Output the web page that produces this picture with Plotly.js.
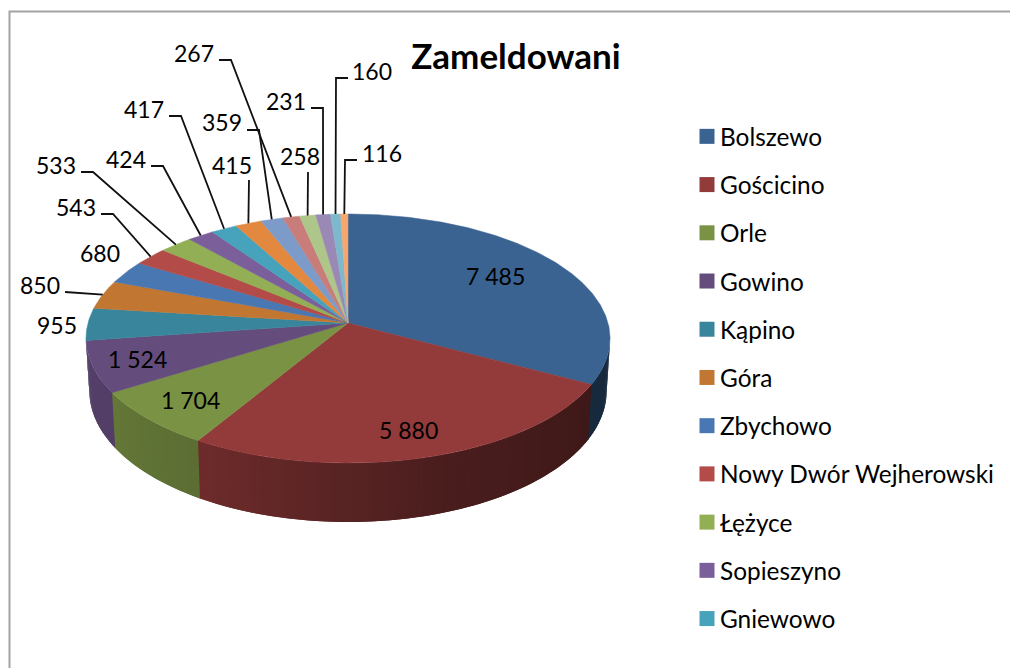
<!DOCTYPE html>
<html>
<head>
<meta charset="utf-8">
<script src="https://cdn.plot.ly/plotly-3.0.1.min.js"></script>
<style>html,body{margin:0;padding:0;background:#fff}#chart{width:1010px;height:668px}</style>
</head>
<body>
<div id="chart"></div>
<script>
// ---- data ----
const sliceValues = [7485, 5880, 1704, 1524, 955, 850, 680, 543, 533, 424, 417, 415, 359, 267, 258, 231, 160, 116];
const legendNames = ['Bolszewo', 'Gościcino', 'Orle', 'Gowino', 'Kąpino', 'Góra', 'Zbychowo', 'Nowy Dwór Wejherowski', 'Łężyce', 'Sopieszyno', 'Gniewowo'];
const sliceColors = ['#3A6391', '#933A3A', '#7A9244', '#644C7D', '#39869C', '#C17732', '#4877B2', '#B34B48', '#93AF55', '#7B5F9A', '#47A2BC', '#E2893F', '#7D9BC8', '#C87D7B', '#AEC68A', '#9A88B5', '#7DB8CC', '#F5A76E'];
// label centres in pixels, one per slice
const labelX = [495, 408, 190, 137, 57, 40, 100, 76, 56, 126, 144, 232, 222, 194, 300, 286, 372, 382];
const labelY = [276, 430, 400, 359, 325, 285, 253, 207, 165, 159, 109, 165, 122, 53, 156, 101, 71, 153];
// leader elbows in pixels (the last point is computed on the rim)
const leaderX = {5: [65], 7: [101, 113], 8: [81, 93], 9: [151, 163], 10: [169, 181], 11: [249], 12: [247, 259], 13: [219, 231], 14: [308], 15: [311, 323], 16: [348, 336], 17: [357, 345]};
const leaderY = {5: [292], 7: [214, 214], 8: [172, 172], 9: [166, 166], 10: [116, 116], 11: [180], 12: [130, 130], 13: [60, 60], 14: [172], 15: [108, 108], 16: [78, 78], 17: [160, 160]};

// ---- perspective disc ----
const cx = 348, cy = 323, R = 260, A = 122.6, K = 0.1245, DEPTH = 51.6, SHRINK = 0.987;
const total = sliceValues.reduce((a, b) => a + b, 0);
function rim(theta) {
  const u = Math.sin(theta), v = -Math.cos(theta), w = 1 - K * v;
  return [R * u / w, A * v / w, w];
}
function upperPt(theta) { const p = rim(theta); return [cx + p[0], cy + p[1]]; }
function lowerPt(theta) { const p = rim(theta); return [cx + p[0] * SHRINK, cy + p[1] + DEPTH / p[2]]; }
const deg = Math.PI / 180;
// side shading: [angle, brightness]
const shadeStops = [[90, .42], [118, .42], [160, .50], [211, .75], [238, .82], [270, .85]];
function shade(a) {
  for (let i = 1; i < shadeStops.length; i++) {
    if (a <= shadeStops[i][0]) {
      const s = shadeStops[i - 1], e = shadeStops[i];
      return s[1] + (e[1] - s[1]) * (a - s[0]) / (e[0] - s[0]);
    }
  }
  return .85;
}
function scaled(hex, f) {
  const n = parseInt(hex.slice(1), 16);
  return 'rgb(' + [(n >> 16) & 255, (n >> 8) & 255, n & 255].map(c => Math.round(c * f)).join(',') + ')';
}
const fmt = v => String(v).replace(/\B(?=(\d{3})+$)/g, '\u00a0');

const traces = [], annotations = [];
const angles = [0];
sliceValues.forEach((v, i) => angles.push(angles[i] + v / total * 360));
const sideFrom = 97.15, sideTo = 262.85, strip = 1, overlap = 1;

// side wall
sliceValues.forEach((v, i) => {
  const a0 = Math.max(angles[i], sideFrom), a1 = Math.min(angles[i + 1], sideTo);
  for (let a = a0; a < a1; a += strip) {
    const b = Math.min(a + strip + overlap, sideTo);
    const xs = [], ys = [];
    [upperPt(a * deg), upperPt((a + b) / 2 * deg), upperPt(b * deg), lowerPt(b * deg), lowerPt((a + b) / 2 * deg), lowerPt(a * deg)].forEach(p => { xs.push(p[0]); ys.push(p[1]); });
    xs.push(xs[0]); ys.push(ys[0]);
    const col = scaled(sliceColors[i], shade(a + strip / 2));
    traces.push({type: 'scatter', mode: 'lines', x: xs, y: ys, fill: 'toself', fillcolor: col, line: {color: col, width: 0}, hoverinfo: 'skip', showlegend: false});
  }
});
// top face
sliceValues.forEach((v, i) => {
  const xs = [cx], ys = [cy];
  for (let a = angles[i]; ; a += 0.5) {
    const t = Math.min(a, angles[i + 1]);
    const p = upperPt(t * deg); xs.push(p[0]); ys.push(p[1]);
    if (a >= angles[i + 1]) break;
  }
  xs.push(cx); ys.push(cy);
  traces.push({type: 'scatter', mode: 'lines', x: xs, y: ys, fill: 'toself', fillcolor: sliceColors[i], line: {color: sliceColors[i], width: 0.5}, hoverinfo: 'skip', showlegend: false});
});
// leaders and labels
sliceValues.forEach((v, i) => {
  if (leaderX[i]) {
    const p = upperPt((angles[i] + angles[i + 1]) / 2 * deg);
    traces.push({type: 'scatter', mode: 'lines', x: leaderX[i].concat(p[0]), y: leaderY[i].concat(p[1]), line: {color: '#111', width: 1.8}, hoverinfo: 'skip', showlegend: false});
  }
  annotations.push({x: labelX[i], y: labelY[i], xref: 'x', yref: 'y', text: fmt(v), showarrow: false, xanchor: 'center', yanchor: 'middle', font: {family: 'Lato', size: 23, color: '#000'}});
});
// legend
legendNames.forEach((name, i) => {
  traces.push({type: 'scatter', mode: 'markers', x: [null], y: [null], name: name, legendgroup: 'g' + i, marker: {symbol: 'square', size: 15, color: sliceColors[i]}, hoverinfo: 'skip'});
});

const layout = {
  width: 1010, height: 668, margin: {l: 0, r: 0, t: 0, b: 0},
  paper_bgcolor: '#fff', plot_bgcolor: '#fff', showlegend: true,
  xaxis: {range: [0, 1010], visible: false, fixedrange: true},
  yaxis: {range: [668, 0], visible: false, fixedrange: true},
  title: {text: 'Zameldowani', x: 516 / 1010, xanchor: 'center', y: 1 - 57 / 668, yanchor: 'middle', font: {family: 'Lato', size: 35, color: '#000', weight: 700}},
  legend: {x: 680 / 1010, xanchor: 'left', y: 1 - 114 / 668, yanchor: 'top', tracegroupgap: 13.5, maxheight: 668, itemclick: false, itemdoubleclick: false, bgcolor: 'rgba(0,0,0,0)', font: {family: 'Lato', size: 24.4, color: '#000'}},
  shapes: [{type: 'rect', xref: 'x', yref: 'y', x0: 9.5, y0: 11.5, x1: 1030, y1: 700, line: {color: '#a3a3a3', width: 2}}],
  annotations: annotations
};
Plotly.newPlot('chart', traces, layout, {displayModeBar: false}).then(() => {
  document.querySelectorAll('.legend .legendsymbols').forEach(g => g.setAttribute('transform', 'translate(7,0)'));
});
</script>
</body>
</html>
